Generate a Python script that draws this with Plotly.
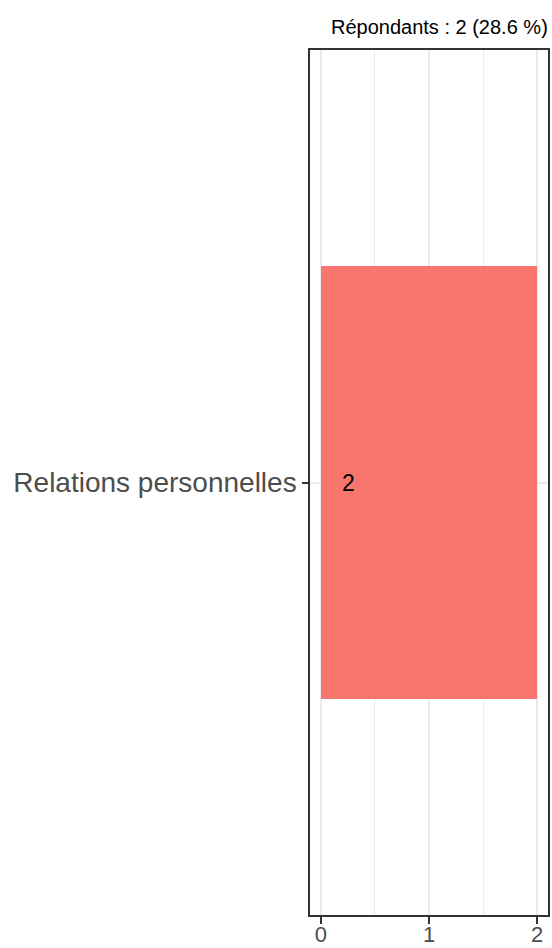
import plotly.graph_objects as go

categories = ["Relations personnelles"]
values = [2]
title_text = "Répondants : 2 (28.6 %)"
x_ticks = [0, 1, 2]

FONT = "Liberation Sans, Arial, Helvetica"

fig = go.Figure()
fig.add_trace(go.Bar(
    y=categories, x=values, orientation="h",
    marker=dict(color="#F8766D", line=dict(width=0)),
    width=0.9, hoverinfo="x+y",
))
for c, v in zip(categories, values):
    fig.add_annotation(x=0, y=c, xref="x", yref="y", text=str(v), showarrow=False,
                       xanchor="left", xshift=19,
                       font=dict(family=FONT, size=23, color="black"))

fig.add_annotation(x=1, y=1, xref="paper", yref="paper", text=title_text, showarrow=False,
                   xanchor="right", yanchor="bottom", yshift=10, xshift=2,
                   font=dict(family=FONT, size=20, color="black"))

fig.update_layout(
    width=552, height=948,
    margin=dict(l=310, r=4, t=50, b=33),
    plot_bgcolor="white", paper_bgcolor="white",
    showlegend=False, bargap=0,
    font=dict(family=FONT),
)
fig.update_xaxes(
    range=[-0.1, 2.1], tickvals=x_ticks, ticktext=[str(t) for t in x_ticks],
    showgrid=True, gridcolor="#EBEBEB", gridwidth=1.6,
    minor=dict(dtick=0.5, tick0=0, showgrid=True, gridcolor="#EBEBEB", gridwidth=0.9, ticks=""),
    showline=True, mirror=True, linecolor="#333333", linewidth=1.5,
    ticks="outside", ticklen=7, tickcolor="#333333", tickwidth=1.5,
    tickfont=dict(size=22, color="#4D4D4D"), zeroline=False, automargin=False,
    ticklabelstandoff=-8,
)
fig.update_yaxes(
    range=[-0.9, 0.9],
    showgrid=True, gridcolor="#EBEBEB", gridwidth=1.6,
    showline=True, mirror=True, linecolor="#333333", linewidth=1.5,
    ticks="outside", ticklen=6, tickcolor="#333333", tickwidth=1.5,
    tickfont=dict(size=28, color="#4D4D4D"), zeroline=False, automargin=False,
)

fig.write_html("out.html", config={"displayModeBar": False},
               post_script="document.body.style.margin='0';document.body.style.overflow='hidden';")
